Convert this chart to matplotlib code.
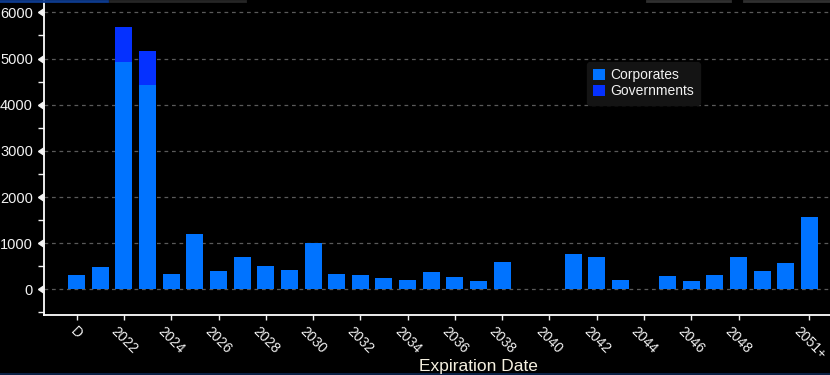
import matplotlib
matplotlib.use("Agg")
import matplotlib.pyplot as plt
import matplotlib.transforms as mtransforms
from matplotlib.lines import Line2D
from matplotlib.ticker import MultipleLocator
import numpy as np

# Data
categories = ["D"] + [str(y) for y in range(2021, 2051)] + ["2051+"]
corporates = [310, 480, 4917, 4418, 333, 1203, 399, 703, 507, 420,
              1014, 333, 312, 246, 200, 370, 260, 175, 590, 0,
              0, 760, 700, 200, 0, 280, 190, 300, 700, 400,
              565, 1565]
governments = [0, 0, 763, 737, 0, 0, 0, 0, 0, 0,
               0, 0, 0, 0, 0, 0, 0, 0, 0, 0,
               0, 0, 0, 0, 0, 0, 0, 0, 0, 0,
               0, 0]
tick_idx = list(range(0, 29, 2)) + [31]
y_ticks = [0, 1000, 2000, 3000, 4000, 5000, 6000]

CORP_COLOR = "#0073ff"
GOV_COLOR = "#0531ff"
TEXT_COLOR = "#f2f2f2"
GRID_COLOR = "#5a5a5a"

plt.rcParams["font.family"] = ["Liberation Sans", "DejaVu Sans"]

fig = plt.figure(figsize=(8.3, 3.75), dpi=100)
fig.patch.set_facecolor("black")
ax = fig.add_axes([44 / 830, 1 - 315 / 375, 786 / 830, 315 / 375])
ax.set_facecolor("black")

x = np.arange(len(categories))
ax.bar(x, corporates, width=0.72, color=CORP_COLOR, label="Corporates", zorder=2)
ax.bar(x, governments, width=0.72, bottom=corporates, color=GOV_COLOR,
       label="Governments", zorder=2)

ax.set_xlim(-1.383, 31.87)
ax.set_ylim(-557, 6269)

# y axis: triangle markers on major ticks, small minor ticks
ax.set_yticks(y_ticks)
ax.yaxis.set_minor_locator(MultipleLocator(500))
ax.tick_params(axis="y", which="major", length=0, pad=8, colors=TEXT_COLOR,
               labelsize=10.5)
ax.tick_params(axis="y", which="minor", length=4, width=1, color=TEXT_COLOR)
trans = mtransforms.blended_transform_factory(ax.transAxes, ax.transData)
ax.plot([0] * len(y_ticks), y_ticks, linestyle="none", marker=8,
        markersize=6, color=TEXT_COLOR, transform=trans, clip_on=False,
        zorder=5)

# x axis
ax.set_xticks(tick_idx)
ax.set_xticklabels([categories[i] for i in tick_idx])
ax.tick_params(axis="x", length=3.5, width=1, colors=TEXT_COLOR,
               labelsize=10, labelrotation=-45, pad=3)

ax.grid(True, axis="y", linestyle=(0, (3, 3)), linewidth=0.9,
        color=GRID_COLOR, zorder=0)
ax.set_axisbelow(True)

for side in ["top", "right"]:
    ax.spines[side].set_visible(False)
for side in ["left", "bottom"]:
    ax.spines[side].set_color("white")
    ax.spines[side].set_linewidth(1.3)

fig.text(478 / 830, 1 - 366 / 375, "Expiration Date", ha="center",
         va="center", fontsize=12.5, color="#f5f0e0")

leg = ax.legend(loc="upper left", bbox_to_anchor=(587 / 830, 1 - 62 / 375),
                bbox_transform=fig.transFigure, borderaxespad=0,
                fontsize=10, frameon=True, facecolor="#141414",
                edgecolor="#141414", handlelength=0.85, handleheight=0.85,
                handletextpad=0.35, labelspacing=0.15, borderpad=0.45,
                fancybox=True)
leg.get_frame().set_alpha(1)
for t in leg.get_texts():
    t.set_color(TEXT_COLOR)

# window chrome strips along the top and bottom edge
fig.add_artist(Line2D([0, 107 / 830], [0.998, 0.998], color="#0d3a8c",
                      linewidth=2, transform=fig.transFigure))
fig.add_artist(Line2D([110 / 830, 245 / 830], [0.998, 0.998], color="#262626",
                      linewidth=2, transform=fig.transFigure))
fig.add_artist(Line2D([647 / 830, 730 / 830], [0.998, 0.998], color="#303030",
                      linewidth=2, transform=fig.transFigure))
fig.add_artist(Line2D([744 / 830, 1], [0.998, 0.998], color="#303030",
                      linewidth=2, transform=fig.transFigure))
fig.add_artist(Line2D([0, 1], [0.002, 0.002], color="#0b2145",
                      linewidth=1.5, transform=fig.transFigure))

fig.savefig("out.png", dpi=100, facecolor="black")
